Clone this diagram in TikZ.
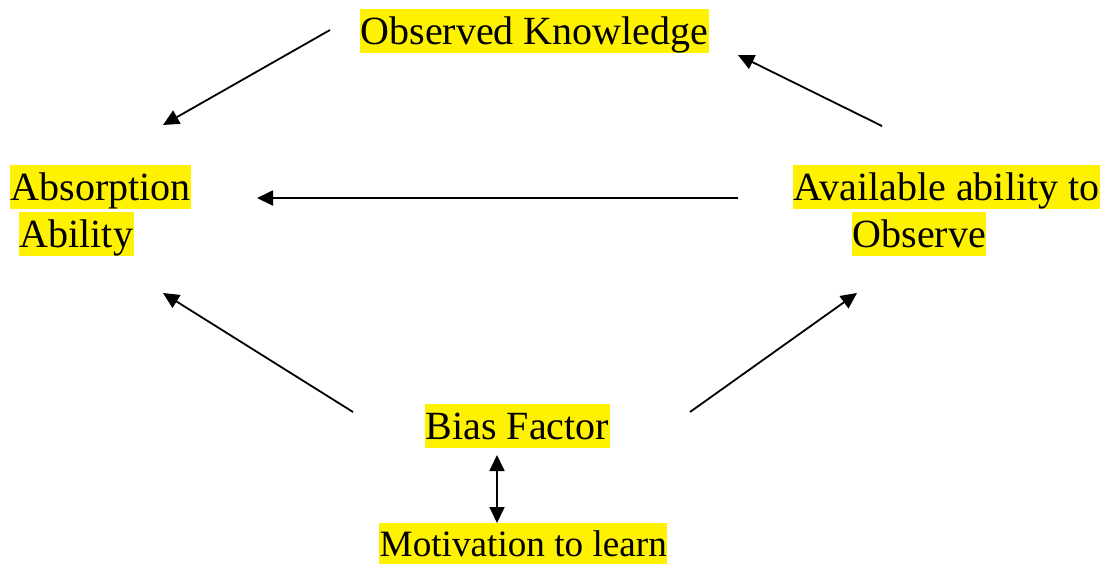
\documentclass[tikz,border=0pt]{standalone}
\usepackage{fontspec}
\setmainfont{Liberation Serif}
\usetikzlibrary{arrows.meta}
\begin{document}
\begin{tikzpicture}[x=1pt,y=-1pt,
  hl/.style={fill=yellow,inner ysep=0pt,inner xsep=0.5pt,anchor=north west,
    text height=35pt,text depth=9pt,font=\fontsize{40}{46}\selectfont},
  hlsmall/.style={hl,text height=33pt,text depth=8pt,font=\fontsize{37.2}{43}\selectfont},
  tip/.style={Triangle[length=16pt,width=15pt]},
  conn/.style={line width=1.8pt,-{Triangle[length=16pt,width=15pt]}},
  dconn/.style={line width=1.8pt,{Triangle[length=16pt,width=15pt]}-{Triangle[length=16pt,width=15pt]}}]
\useasboundingbox (0,0) rectangle (1108,563);
\node[hl] (ok) at (360,9) {Observed Knowledge};
\node[hl] (abs1) at (10,165) {Absorption};
\node[hl] (abs2) at (19,212) {Ability};
\node[hl] (av1) at (793,165) {Available ability to};
\node[hl] (av2) at (852,212) {Observe};
\node[hl] (bias) at (425,404) {Bias Factor};
\node[hlsmall] (mot) at (379,523) {Motivation to learn};
% connector ends
\coordinate (okL) at (330,30);
\coordinate (absT) at (163,125);
\coordinate (avT) at (882,126);
\coordinate (okR) at (738,55);
\coordinate (avL) at (738,198);
\coordinate (absR) at (257,198);
\coordinate (biasL) at (353,412);
\coordinate (absB) at (163,293);
\coordinate (biasR) at (690,412);
\coordinate (avB) at (857,293);
\coordinate (biasD) at (497,455);
\coordinate (motU) at (497,523);
\draw[conn] (okL) -- (absT);
\draw[conn] (avT) -- (okR);
\draw[conn] (avL) -- (absR);
\draw[conn] (biasL) -- (absB);
\draw[conn] (biasR) -- (avB);
\draw[dconn] (biasD) -- (motU);
\end{tikzpicture}
\end{document}
